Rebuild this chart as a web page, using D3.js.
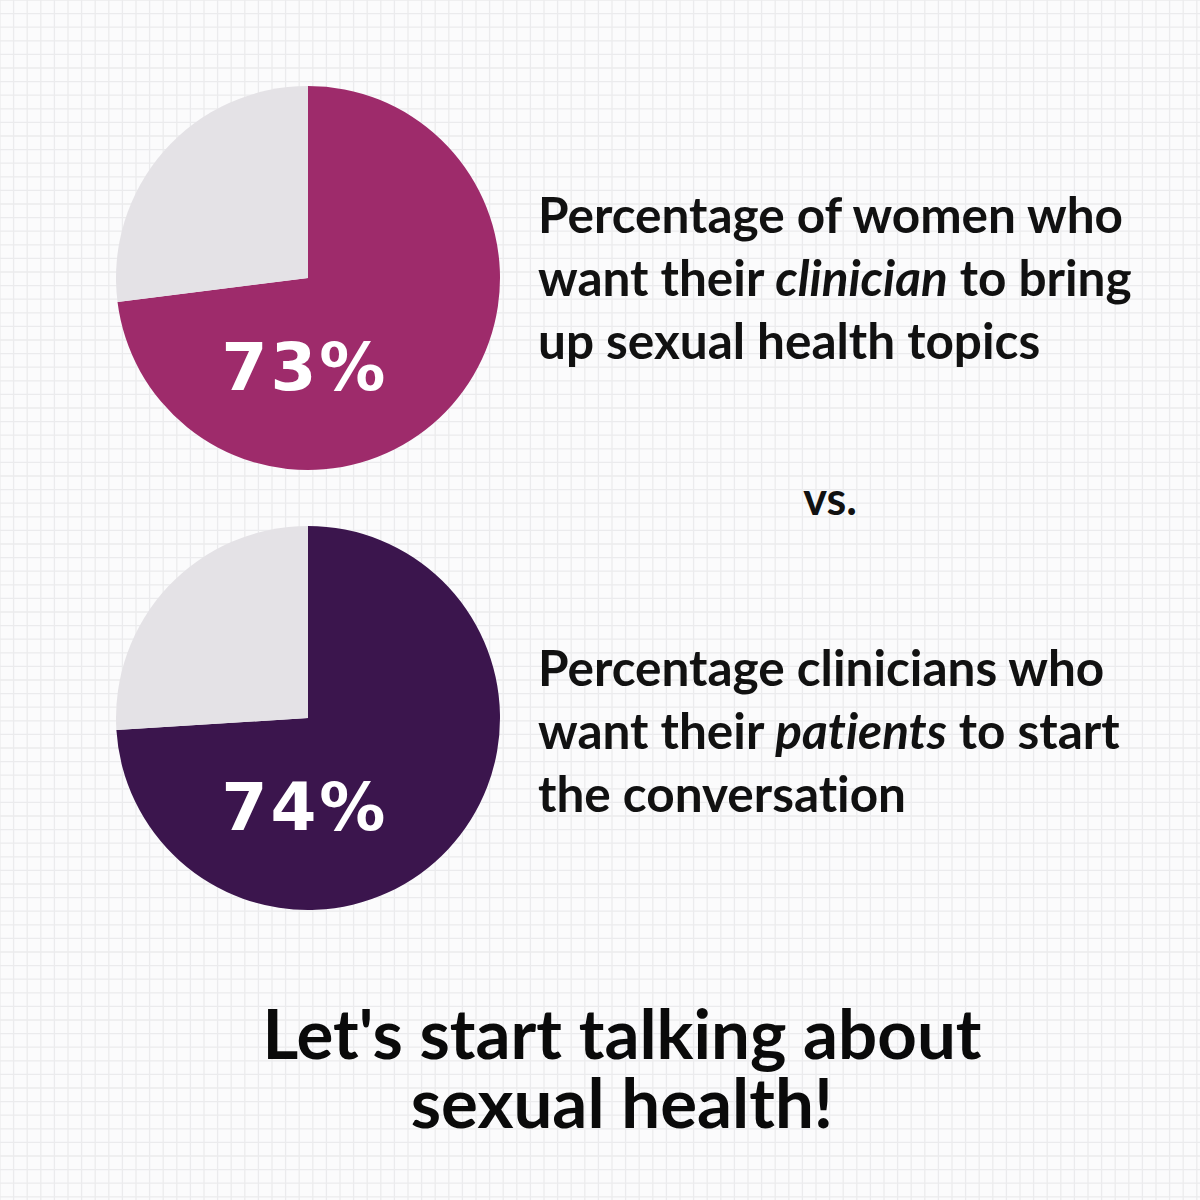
<!DOCTYPE html><html><head><meta charset="utf-8"><script src="https://cdn.jsdelivr.net/npm/d3@7"></script>
<style>body{margin:0}svg{display:block}text{font-variant-ligatures:none}</style></head><body><svg width="1200" height="1200"></svg>
<script>
const percentages=[73,74];
const labels=["73%","74%"];
const colors=["#9e2b6b","#3b154d"];
const restColor="#e4e2e6";
const descriptions=[
 [["Percentage of women who"],["want their ",["clinician",true]," to bring"],["up sexual health topics"]],
 [["Percentage clinicians who"],["want their ",["patients",true]," to start"],["the conversation"]]
];
const headline=["Let's start talking about","sexual health!"];
const svg=d3.select("svg");
svg.append("rect").attr("width",1200).attr("height",1200).attr("fill","#fbfbfc");
const g=svg.append("g");
for(let x=0;x<=1200;x+=13.6)g.append("line").attr("x1",x).attr("x2",x).attr("y1",0).attr("y2",1200).attr("stroke","#ebebed").attr("stroke-width",1.3);
for(let y=0;y<=1200;y+=13.6)g.append("line").attr("y1",y).attr("y2",y).attr("x1",0).attr("x2",1200).attr("stroke","#ebebed").attr("stroke-width",1.3);
const pie=d3.pie().sort(null).value(d=>d);
const arc=d3.arc().innerRadius(0).outerRadius(192);
const cy=[278,718];
percentages.forEach((p,i)=>{
 const pg=svg.append("g").attr("transform",`translate(308,${cy[i]})`);
 pg.selectAll("path").data(pie([p,100-p])).join("path").attr("d",arc).attr("fill",(d,j)=>j?restColor:colors[i]);
 pg.append("text").attr("x",-3).attr("y",112).attr("text-anchor","middle").attr("fill","#fff")
  .attr("font-family","DejaVu Sans").attr("font-weight","bold").attr("font-size",66).attr("letter-spacing",3).text(labels[i]);
 const base=[233,686][i];
 descriptions[i].forEach((line,k)=>{
  const t=svg.append("text").attr("x",538).attr("y",base+k*63).attr("font-family","Lato").attr("font-weight",700).attr("font-size",49.5).attr("fill","#111");
  line.forEach(seg=>{ if(Array.isArray(seg)) t.append("tspan").attr("font-style","italic").text(seg[0]); else t.append("tspan").text(seg);});
 });
});
svg.append("text").attr("x",830).attr("y",515).attr("text-anchor","middle").attr("font-family","Lato").attr("font-weight","bold").attr("font-size",45).attr("fill","#111").text("vs.");
const ht=svg.append("text").attr("text-anchor","middle").attr("font-family","Lato").attr("font-weight","bold").attr("font-size",69).attr("fill","#0a0a0a");
headline.forEach((h,k)=>ht.append("tspan").attr("x",622).attr("y",1059+k*69).text(h));
</script></body></html>
